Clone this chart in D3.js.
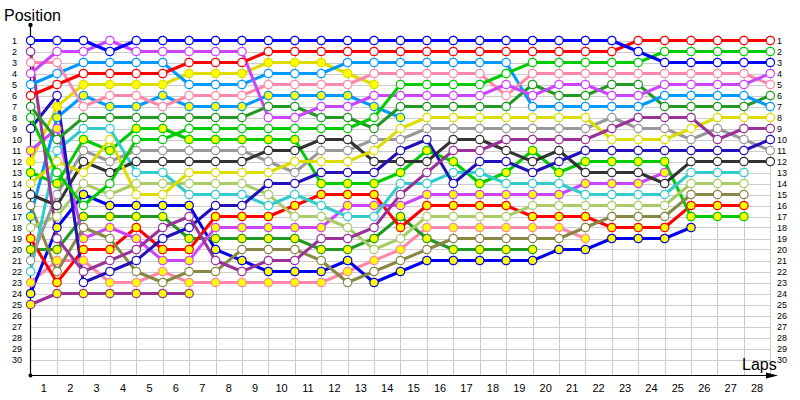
<!DOCTYPE html>
<html><head><meta charset="utf-8">
<script src="https://cdn.jsdelivr.net/npm/d3@7"></script>
<style>html,body{margin:0;padding:0;background:#fff;}svg{display:block;}</style>
</head><body>
<svg id="chart" width="800" height="400"></svg>
<script>
// ---- data: position per lap (lap 0 = grid) ----
const laps = d3.range(0, 29);
const lapLabels = d3.range(1, 29);
const positions = d3.range(1, 31);

const blue     = [1,1,1,2,1,1,1,1,1,1,1,1,1,1,1,1,1,1,1,1,1,1,1,2,3,3,3,3,3];
const dpurple  = [2,19,22,21,20,18,17,21,22,21,21,19,19,18,15,13,11,11,10,10,10,10,9,8,8,8,10,9,9];
const pink     = [3,3,7,6,6,7,6,6,6,5,5,5,5,4,4,4,4,4,6,4,4,4,4,4,4,4,4,4,5];
const violet   = [4,2,2,1,2,2,2,2,2,8,8,7,7,6,6,6,6,6,5,6,5,5,6,6,5,5,5,5,4];
const lblue    = [5,4,3,3,3,3,5,5,5,4,4,4,3,3,3,3,3,3,3,7,7,7,7,7,6,6,6,6,7];
const red      = [6,5,4,4,4,4,3,3,3,2,2,2,2,2,2,2,2,2,2,2,2,2,2,1,1,1,1,1,1];
const dgreen   = [7,10,8,8,8,8,8,8,8,7,7,8,8,9,7,7,7,7,7,5,6,6,5,5,7,7,7,7,6];
const green    = [8,13,16,14,10,10,9,9,9,9,9,9,9,8,5,5,5,5,4,3,3,3,3,3,2,2,2,2,2];
const navy     = [9,6,23,22,21,19,18,16,16,14,14,13,13,13,11,10,14,12,12,13,12,11,11,11,11,11,11,11,10];
const violetY  = [11,9,19,18,19,21,21,18,18,18,18,18,16,16,16,15,15,15,15,15,15,14,14,14,13];
const yellowY  = [12,7,5,5,5,5,4,4,4,3,3,3,4,5];
const greenY   = [13,14,10,11,9,9,10,10,10,10,10,14,14,14,13,11,12,14,13,11,13,12,12,12,12,17,17,17];
const yellow   = [14,12,13,10,15,15,13,13,13,13,12,12,12,11,9,8,8,8,8,8,8,8,10,10,10,9,8,8,8];
const dgray    = [15,16,12,13,12,12,12,12,12,11,11,10,10,12,12,12,10,10,11,12,11,13,13,13,14,12,12,12,12];
const olive    = [16,22,18,19,22,23,22,22,20,20,20,21,23,22,21,20,19,19,19,19,19,18,17,17,17,15,15,15];
const lblueY   = [17,8,6,7,7,6,7,7,7,6,6,6,6,7,8];
const lgreen   = [18,17,14,15,14,14,14,14,14,15,17,17,18,20,19,17,17,17,17,16,16,16,16,16,16,14,14,14];
const redY     = [19,23,20,20,18,20,20,17,17,17,16,15,15,15,18,16,16,16,16,17,17,17,18,18,18,16,16,16];
const dgreenY  = [20,20,17,17,17,17,19,19,19,19,19,20,20,19,17,19,20,20,20,20];
const gray     = [21,15,11,12,11,11,11,11,11,12,13,11,11,10,10,9,9,9,9,9,9,9,8,9,9,10,9,10,11];
const teal     = [22,11,9,9,13,13,15,15,15,16,15,16,17,17,14,14,13,13,14,14,14,15,15,15,15,13,13,13];
const pinkY    = [23,21,21,23,23,22,23,23,23,23,23,23,22,21,20,18,18,18,18,18,18,19];
const blueY    = [24,18,15,16,16,16,16,20,21,22,22,22,21,23,22,21,21,21,21,21,20,20,19,19,19,18];
const dpurpleY = [25,24,24,24,24,24,24];

const series = [
  {name:"dpurpleY", color:"#993399", fill:"#ffff00", pos:dpurpleY},
  {name:"pinkY",    color:"#ff88aa", fill:"#ffff00", pos:pinkY},
  {name:"blueY",    color:"#0000ee", fill:"#ffff00", pos:blueY},
  {name:"dgreenY",  color:"#229922", fill:"#ffff00", pos:dgreenY},
  {name:"redY",     color:"#ff0000", fill:"#ffff00", pos:redY},
  {name:"lblueY",   color:"#0099ff", fill:"#ffff00", pos:lblueY},
  {name:"greenY",   color:"#00cc00", fill:"#ffff00", pos:greenY},
  {name:"yellowY",  color:"#dddd00", fill:"#ffff00", pos:yellowY},
  {name:"violetY",  color:"#cc44ff", fill:"#ffff00", pos:violetY},
  {name:"olive",    color:"#888844", fill:"#ffffff", pos:olive},
  {name:"lgreen",   color:"#aacc66", fill:"#ffffff", pos:lgreen},
  {name:"teal",     color:"#33cccc", fill:"#ffffff", pos:teal},
  {name:"gray",     color:"#999999", fill:"#ffffff", pos:gray},
  {name:"dgray",    color:"#333333", fill:"#ffffff", pos:dgray},
  {name:"yellow",   color:"#dddd00", fill:"#ffffff", pos:yellow},
  {name:"navy",     color:"#2211bb", fill:"#ffffff", pos:navy},
  {name:"dpurple",  color:"#993399", fill:"#ffffff", pos:dpurple},
  {name:"dgreen",   color:"#229922", fill:"#ffffff", pos:dgreen},
  {name:"lblue",    color:"#0099ff", fill:"#ffffff", pos:lblue},
  {name:"pink",     color:"#ff88aa", fill:"#ffffff", pos:pink},
  {name:"violet",   color:"#cc44ff", fill:"#ffffff", pos:violet},
  {name:"green",    color:"#00cc00", fill:"#ffffff", pos:green},
  {name:"red",      color:"#ff0000", fill:"#ffffff", pos:red},
  {name:"blue",     color:"#0000ff", fill:"#ffffff", pos:blue}
];

// ---- scales ----
const svg = d3.select("#chart");
const x = d3.scaleLinear().domain([0, 28]).range([30.6, 770.3]);
const y = d3.scaleLinear().domain([1, 30]).range([40.5, 359.5]);
const axisY = 375.5;

// grid
const grid = svg.append("g");
grid.selectAll("line.h").data(positions).join("line")
  .attr("x1", x(0)).attr("x2", x(28))
  .attr("y1", d => Math.round(y(d)) + 0.5).attr("y2", d => Math.round(y(d)) + 0.5)
  .attr("stroke", "#cccccc").attr("stroke-width", 1);
grid.selectAll("line.v").data(lapLabels).join("line")
  .attr("x1", d => Math.round(x(d)) + 0.5).attr("x2", d => Math.round(x(d)) + 0.5)
  .attr("y1", 35).attr("y2", axisY)
  .attr("stroke", "#cccccc").attr("stroke-width", 1);

// axes
svg.append("line").attr("x1", 30.5).attr("x2", 30.5).attr("y1", 25).attr("y2", axisY)
  .attr("stroke", "#000").attr("stroke-width", 1.2);
svg.append("circle").attr("cx", 30.5).attr("cy", 25).attr("r", 2.2).attr("fill", "#000");
svg.append("circle").attr("cx", 30.5).attr("cy", axisY).attr("r", 2).attr("fill", "#000");
svg.append("line").attr("x1", 30).attr("x2", 772).attr("y1", axisY).attr("y2", axisY)
  .attr("stroke", "#000").attr("stroke-width", 1.2);
svg.append("path").attr("d", `M766,${axisY-3}L778,${axisY}L766,${axisY+3}Z`).attr("fill", "#000");

// axis labels
const labelFont = "'Liberation Sans', Arial, sans-serif";
svg.selectAll("text.yl").data(positions).join("text")
  .attr("x", 12).attr("y", d => y(d)).attr("dy", "0.35em")
  .attr("font-family", labelFont).attr("font-size", 9).attr("fill", "#000")
  .text(d => d);
svg.selectAll("text.yr").data(positions).join("text")
  .attr("x", 777).attr("y", d => y(d)).attr("dy", "0.35em")
  .attr("font-family", labelFont).attr("font-size", 9).attr("fill", "#000")
  .text(d => d);
svg.selectAll("text.xl").data(lapLabels).join("text")
  .attr("x", d => x(d - 0.5)).attr("y", 392).attr("text-anchor", "middle")
  .attr("font-family", labelFont).attr("font-size", 11).attr("fill", "#000")
  .text(d => d);
svg.append("text").attr("x", 4).attr("y", 21).attr("font-family", labelFont)
  .attr("font-size", 16).attr("fill", "#000").text("Position");
svg.append("text").attr("x", 742).attr("y", 370).attr("font-family", labelFont)
  .attr("font-size", 16).attr("fill", "#000").text("Laps");

// lines
const line = d3.line().x((d, i) => x(i)).y(d => y(d));
const gl = svg.append("g");
series.forEach(s => {
  gl.append("path").datum(s.pos).attr("d", line)
    .attr("fill", "none").attr("stroke", s.color).attr("stroke-width", 3)
    .attr("stroke-linejoin", "round");
});
const gm = svg.append("g");
series.forEach(s => {
  gm.selectAll(null).data(s.pos.map((p, i) => ({p, i}))).join("circle")
    .attr("cx", d => x(d.i)).attr("cy", d => y(d.p)).attr("r", 4.2)
    .attr("fill", s.fill).attr("stroke", s.color).attr("stroke-width", 1.2);
});
</script>
</body></html>
